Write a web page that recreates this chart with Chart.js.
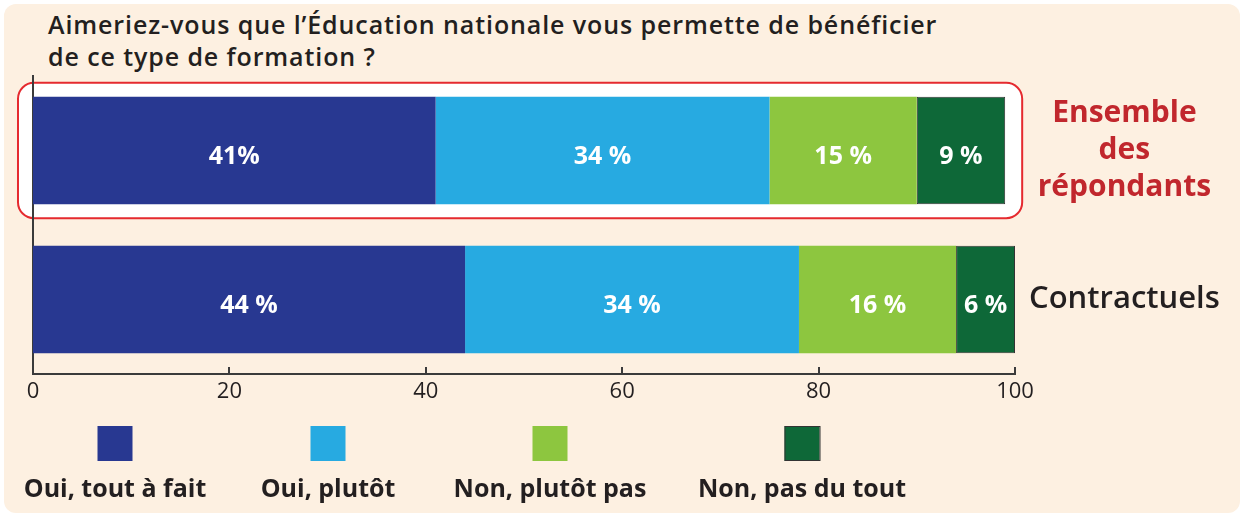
<!DOCTYPE html>
<html>
<head>
<meta charset="utf-8">
<script src="https://cdn.jsdelivr.net/npm/chart.js@4/dist/chart.umd.min.js"></script>
<style>
  html, body { margin: 0; padding: 0; background: #ffffff; }
  #wrap { position: relative; width: 1244px; height: 517px; }
  #panel {
    position: absolute; left: 4px; top: 4px; width: 1236px; height: 509px;
    background: #fdf0e1; border-radius: 12px;
  }
  #title {
    position: absolute; left: 48px; top: 8px;
    font-family: "Open Sans", sans-serif; font-weight: 600; font-size: 25px;
    letter-spacing: 0.9px; line-height: 32px; color: #231f20;
  }
  #genreChart { position: absolute; left: 0; top: 0; }
</style>
</head>
<body>
<div id="wrap">
  <div id="panel"></div>
  <div id="title">Aimeriez-vous que l’Éducation nationale vous permette de bénéficier<br>de ce type de formation ?</div>
  <canvas id="genreChart" width="1244" height="517"></canvas>
</div>
<script>
// categories (one bar each)
const categories = [["Ensemble", "des", "répondants"], "Contractuels"];

// answers
const seriesNames = ["Oui, tout à fait", "Oui, plutôt", "Non, plutôt pas", "Non, pas du tout"];
const ouiToutAFait = [41, 44];
const ouiPlutot = [34, 34];
const nonPlutotPas = [15, 16];
const nonPasDuTout = [9, 6];

// text written inside the bars
const valueLabels = [
  ["41%", "44 %"],
  ["34 %", "34 %"],
  ["15 %", "16 %"],
  ["9 %", "6 %"]
];

const xTicks = [0, 20, 40, 60, 80, 100];

const colors = ["#283891", "#27aae1", "#8dc63f", "#0e6838"];
const categoryColors = ["#c1272d", "#231f20"];

const boldFont = "'Open Sans', sans-serif";

// white box with red outline around the first bar
const highlightBox = {
  id: "highlightBox",
  beforeDraw(chart) {
    const ctx = chart.ctx;
    const x = chart.scales.x;
    const bar = chart.getDatasetMeta(0).data[0];
    const total = chart.data.datasets.reduce((s, d) => s + d.data[0], 0);
    const left = x.getPixelForValue(0) - 15;
    const right = x.getPixelForValue(total) + 17;
    const top = bar.y - bar.height / 2 - 14;
    const bottom = bar.y + bar.height / 2 + 14;
    ctx.save();
    ctx.beginPath();
    ctx.roundRect(left, top, right - left, bottom - top, 16);
    ctx.fillStyle = "#ffffff";
    ctx.fill();
    ctx.lineWidth = 2;
    ctx.strokeStyle = "#e52a2f";
    ctx.stroke();
    ctx.restore();
  }
};

// percentages inside the segments, tick marks pointing up, legend under the axis
const extras = {
  id: "extras",
  afterDraw(chart) {
    const ctx = chart.ctx;
    ctx.save();

    ctx.fillStyle = "#ffffff";
    ctx.font = "bold 25px " + boldFont;
    ctx.textAlign = "center";
    ctx.textBaseline = "middle";
    chart.data.datasets.forEach((ds, i) => {
      chart.getDatasetMeta(i).data.forEach((el, j) => {
        ctx.fillText(valueLabels[i][j], (el.x + el.base) / 2, el.y + 6);
      });
    });

    const x = chart.scales.x;
    ctx.strokeStyle = "#3b3b3b";
    ctx.lineWidth = 2;
    x.ticks.forEach(t => {
      const px = Math.round(x.getPixelForValue(t.value));
      ctx.beginPath();
      ctx.moveTo(px, x.top);
      ctx.lineTo(px, x.top - 7);
      ctx.stroke();
    });

    const centers = [115, 328, 550, 802];
    chart.data.datasets.forEach((ds, i) => {
      const cx = centers[i];
      ctx.fillStyle = ds.backgroundColor;
      ctx.fillRect(cx - 17.5, 426, 35, 35);
      if (ds.borderWidth) {
        ctx.strokeStyle = "#333333";
        ctx.lineWidth = 1;
        ctx.strokeRect(cx - 17, 426.5, 35, 34);
      }
      ctx.fillStyle = "#231f20";
      ctx.font = "bold 25px " + boldFont;
      ctx.textBaseline = "alphabetic";
      ctx.fillText(ds.label, cx, 497);
    });

    ctx.restore();
  }
};

const seriesData = [ouiToutAFait, ouiPlutot, nonPlutotPas, nonPasDuTout];

const datasets = seriesNames.map((name, i) => ({
  label: name,
  data: seriesData[i],
  backgroundColor: colors[i],
  borderColor: "#333333",
  borderWidth: i === 3 ? 1 : 0,
  borderSkipped: false,
  categoryPercentage: 1,
  barPercentage: 0.72
}));

new Chart(document.getElementById("genreChart"), {
  type: "bar",
  data: { labels: categories, datasets },
  options: {
    indexAxis: "y",
    responsive: false,
    animation: false,
    layout: { padding: { left: 33, right: 0, top: 76, bottom: 113 } },
    plugins: { legend: { display: false }, tooltip: { enabled: false } },
    scales: {
      x: {
        stacked: true,
        min: 0,
        max: 100,
        afterBuildTicks: s => { s.ticks = xTicks.map(v => ({ value: v })); },
        grid: { display: false, drawTicks: false },
        border: { display: true, color: "#3b3b3b", width: 2 },
        ticks: {
          padding: 5,
          color: "#231f20",
          font: { family: "'Open Sans', sans-serif", size: 22 }
        },
        afterFit: s => { s.height = 30; }
      },
      y: {
        stacked: true,
        position: "left",
        grid: { display: false, drawTicks: false },
        border: { display: true, color: "#3b3b3b", width: 2 },
        ticks: { display: false },
        afterFit: s => { s.width = 0; }
      },
      y2: {
        type: "category",
        position: "right",
        offset: true,
        grid: { display: false, drawTicks: false },
        border: { display: false },
        ticks: {
          padding: 14,
          crossAlign: "center",
          color: c => categoryColors[c.index],
          font: c => c.index === 0
            ? { family: boldFont, size: 30, weight: "bold", lineHeight: 1.22 }
            : { family: boldFont, size: 31, weight: "600", lineHeight: 1.22 }
        },
        afterFit: s => { s.width = 229; }
      }
    }
  },
  plugins: [highlightBox, extras]
});
</script>
</body>
</html>
